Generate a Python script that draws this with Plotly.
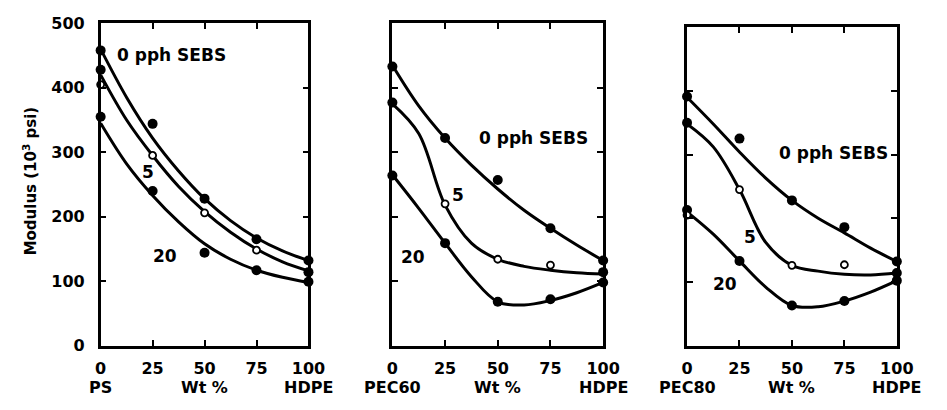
import plotly.graph_objects as go

# ---- data ----
x_pts = [0, 25, 50, 75, 100]
panels = ["PS", "PEC60", "PEC80"]

# measured points
ps_0 = [458, 344, 228, 165, 132]
ps_5 = [428, 295, 206, 148, 114]
ps_20 = [355, 240, 144, 117, 99]
ps_extra_open = [(0, 405)]

p60_0 = [433, 322, 257, 182, 132]
p60_5 = [377, 220, 134, 125, 114]
p60_20 = [264, 159, 68, 72, 98]
p60_extra_open = []

p80_0 = [391, 325, 228, 186, 132]
p80_5 = [350, 245, 126, 127, 114]
p80_20 = [213, 133, 63, 70, 102]
p80_extra_open = [(0, 205)]

# which x positions of the 5 pph series are drawn as open circles
open_5_x = [25, 50, 75]

# smooth fitted curves
cx = [0, 12.5, 25, 37.5, 50, 62.5, 75, 87.5, 100]
ps_c0 = [460, 385, 322, 271, 228, 194, 167, 147, 132]
ps_c5 = [420, 350, 295, 247, 208, 176, 150, 130, 116]
ps_c20 = [345, 282, 233, 192, 158, 134, 117, 106, 98]

p60_c0 = [435, 372, 322, 280, 243, 210, 182, 156, 132]
p60_c5 = [375, 329, 218, 159, 134, 123, 117, 113, 111]
p60_c20 = [265, 213, 159, 107, 68, 63, 70, 82, 98]

p80_c0 = [390, 348, 304, 263, 228, 200, 177, 153, 132]
p80_c5 = [348, 312, 245, 162, 126, 117, 112, 111, 114]
p80_c20 = [210, 175, 133, 92, 63, 61, 70, 84, 102]

y_ticks = [0, 100, 200, 300, 400, 500]
x_ticks = [0, 25, 50, 75, 100]

pts = [(ps_0, ps_5, ps_20, ps_extra_open),
       (p60_0, p60_5, p60_20, p60_extra_open),
       (p80_0, p80_5, p80_20, p80_extra_open)]
curves = [(ps_c0, ps_c5, ps_c20), (p60_c0, p60_c5, p60_c20), (p80_c0, p80_c5, p80_c20)]

# labels: (text, x, y) per panel
labels = [
    [("0 pph SEBS", 34, 451), ("5", 23, 270), ("20", 31, 139)],
    [("0 pph SEBS", 67, 322), ("5", 31, 233), ("20", 10, 137)],
    [("0 pph SEBS", 70, 303), ("5", 30, 170), ("20", 18, 97)],
]

# ---- figure ----
W, H = 947, 410
domains = [(97 / W, 310 / W), (396 / W, 612 / W), (698 / W, 913 / W)]
ytops = [15, 15, 19]
FONT = "DejaVu Sans"

fig = go.Figure()
for i in range(3):
    xa = "x" if i == 0 else f"x{i+1}"
    ya = "y" if i == 0 else f"y{i+1}"
    c0, c5, c20 = curves[i]
    for c in (c0, c5, c20):
        fig.add_trace(go.Scatter(x=cx, y=c, mode="lines",
                                 line=dict(color="black", width=3, shape="spline", smoothing=1.0),
                                 xaxis=xa, yaxis=ya, showlegend=False, hoverinfo="skip", cliponaxis=False))
    s0, s5, s20, extra = pts[i]
    fx, fy, ox, oy = [], [], [], []
    for series in (s0, s20):
        fx += x_pts
        fy += series
    for xv, yv in zip(x_pts, s5):
        if xv in open_5_x:
            ox.append(xv); oy.append(yv)
        else:
            fx.append(xv); fy.append(yv)
    for e in extra:
        ox.append(e[0]); oy.append(e[1])
    fig.add_trace(go.Scatter(x=fx, y=fy, mode="markers", marker=dict(symbol="circle", size=10, color="black"),
                             xaxis=xa, yaxis=ya, showlegend=False, cliponaxis=False))
    fig.add_trace(go.Scatter(x=ox, y=oy, mode="markers",
                             marker=dict(symbol="circle", size=7, color="white", line=dict(width=1.8, color="black")),
                             xaxis=xa, yaxis=ya, showlegend=False, cliponaxis=False))
    for (t, lx, ly) in labels[i]:
        fig.add_annotation(text=f"<b>{t}</b>", x=lx, y=ly, xref=xa, yref=ya, showarrow=False,
                           font=dict(family=FONT, size=17, color="black"))

    axkw = dict(showline=True, linewidth=2.5, linecolor="black", mirror="allticks", ticks="inside",
                ticklen=6, tickwidth=1.5, tickcolor="black", showgrid=False, zeroline=False,
                tickfont=dict(family=FONT, size=16, color="black"))
    ydom = [1 - 353 / H, 1 - ytops[i] / H]
    fig.update_layout(**{
        ("xaxis" if i == 0 else f"xaxis{i+1}"): dict(domain=list(domains[i]), range=[0, 100], tickvals=x_ticks,
                                                      ticktext=[f"<b>{v}</b>" for v in x_ticks],
                                                      anchor=ya, ticklabelstandoff=6, **axkw),
        ("yaxis" if i == 0 else f"yaxis{i+1}"): dict(domain=ydom, range=[0, 500], tickvals=y_ticks,
                                                      ticktext=[f"<b>{v}</b>" for v in y_ticks],
                                                      showticklabels=(i == 0), anchor=xa, ticklabelstandoff=10, **axkw),
    })
    left, right = domains[i]
    for (t, px) in [(panels[i], left), ("Wt %", (left + right) / 2), ("HDPE", right)]:
        fig.add_annotation(text=f"<b>{t}</b>", x=px, y=1 - 397 / H, xref="paper", yref="paper", showarrow=False,
                           xanchor="center", yanchor="middle", font=dict(family=FONT, size=16, color="black"))

fig.add_annotation(text="<b>Modulus (10<sup>3</sup> psi)</b>", x=12 / W, y=1 - 180 / H, xref="paper", yref="paper",
                   showarrow=False, textangle=-90, font=dict(family=FONT, size=15, color="black"))

fig.update_layout(width=W, height=H, margin=dict(l=0, r=0, t=0, b=0), plot_bgcolor="white", paper_bgcolor="white")
fig.write_html("out.html")
